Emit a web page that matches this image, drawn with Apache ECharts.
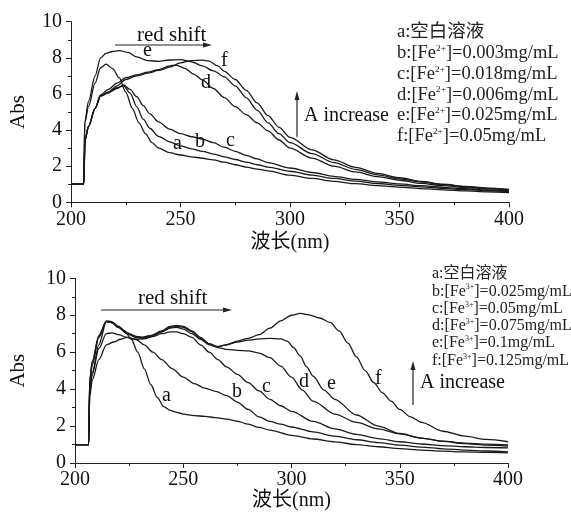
<!DOCTYPE html>
<html>
<head>
<meta charset="utf-8">
<script src="https://cdn.jsdelivr.net/npm/echarts/dist/echarts.min.js"></script>
<style>
html,body{margin:0;padding:0;background:#fff;}
#main{width:571px;height:512px;}
</style>
</head>
<body>
<div id="main"></div>
<script>
// axis ticks
var xTicks = [200, 250, 300, 350, 400];
var yTicks = [0, 2, 4, 6, 8, 10];

// Fe2+ spectra (top panel), [wavelength nm, Abs]
var fe2A = [[200,1],[205.8,1],[206.3,4.4],[208,5.3],[211,6.6],[213.5,7.45],[216,7.65],[219,7.4],[222,6.9],[225,6.1],[228,5.2],[231,4.4],[234,3.8],[237,3.3],[240,3.0],[245,2.75],[250,2.62],[255,2.52],[260,2.44],[265,2.35],[270,2.22],[275,2.08],[280,1.95],[285,1.84],[290,1.74],[300,1.5],[310,1.32],[320,1.16],[330,1.03],[340,0.92],[350,0.84],[360,0.76],[370,0.69],[380,0.63],[390,0.58],[400,0.54]];
var fe2B = [[200,1],[205.8,1],[206.4,3.45],[208,4.2],[211,5.2],[213.5,5.9],[217,6.1],[221,6.35],[224,6.45],[227,6.05],[230,5.3],[233,4.6],[236,4.1],[240,3.65],[245,3.35],[250,3.12],[255,2.96],[260,2.82],[265,2.67],[270,2.52],[275,2.37],[280,2.22],[285,2.08],[290,1.95],[300,1.72],[310,1.5],[320,1.32],[330,1.17],[340,1.04],[350,0.94],[360,0.85],[370,0.77],[380,0.7],[390,0.64],[400,0.59]];
var fe2C = [[200,1],[205.8,1],[206.4,3.45],[208,4.2],[211,5.2],[213.5,5.88],[217,6.05],[221,6.3],[224,6.5],[227,6.25],[230,5.85],[233,5.35],[236,4.9],[240,4.45],[245,4.05],[250,3.8],[255,3.63],[260,3.5],[265,3.3],[270,3.05],[275,2.82],[280,2.6],[285,2.4],[290,2.2],[300,1.9],[310,1.65],[320,1.44],[330,1.27],[340,1.13],[350,1.02],[360,0.92],[370,0.83],[380,0.75],[390,0.68],[400,0.63]];
var fe2D = [[200,1],[205.8,1],[206.4,3.45],[208,4.2],[211,5.2],[213.5,5.95],[217,6.25],[221,6.6],[225,6.9],[230,7.05],[235,7.2],[240,7.35],[245,7.55],[248,7.6],[252,7.42],[256,7.1],[260,6.78],[265,6.3],[270,5.8],[275,5.3],[280,4.85],[285,4.4],[290,3.95],[295,3.45],[300,3.0],[310,2.45],[320,2.0],[330,1.68],[340,1.42],[350,1.22],[360,1.05],[370,0.92],[380,0.82],[390,0.74],[400,0.68]];
var fe2E = [[200,1],[205.8,1],[206.3,4.45],[208,5.6],[211,7.0],[213.5,8.0],[216,8.25],[219,8.35],[222,8.4],[226,8.3],[230,8.05],[235,7.85],[240,7.8],[245,7.88],[250,7.9],[255,7.78],[260,7.55],[265,7.28],[270,6.95],[275,6.45],[280,5.8],[285,5.1],[290,4.4],[295,3.8],[300,3.3],[310,2.7],[320,2.2],[330,1.82],[340,1.52],[350,1.3],[360,1.12],[370,0.98],[380,0.86],[390,0.77],[400,0.7]];
var fe2F = [[200,1],[205.8,1],[206.4,3.45],[208,4.2],[211,5.2],[213.5,5.9],[217,6.1],[221,6.45],[225,6.8],[230,7.0],[235,7.15],[240,7.3],[245,7.48],[250,7.72],[255,7.85],[260,7.87],[263,7.82],[267,7.55],[270,7.25],[275,6.8],[280,6.2],[285,5.5],[290,4.8],[295,4.15],[300,3.6],[310,2.9],[320,2.35],[330,1.93],[340,1.6],[350,1.36],[360,1.16],[370,1.0],[380,0.88],[390,0.79],[400,0.72]];

// Fe3+ spectra (bottom panel)
var fe3A = [[200,1],[206.3,1],[206.8,4.0],[208,4.9],[211,6.4],[214.5,7.65],[217,7.6],[220,7.4],[223,7.15],[226,6.7],[229,6.0],[232,5.1],[235,4.25],[238,3.55],[241,3.05],[244,2.85],[247,2.74],[250,2.65],[255,2.57],[260,2.52],[265,2.46],[270,2.38],[275,2.26],[280,2.1],[285,1.93],[290,1.78],[300,1.5],[310,1.3],[320,1.14],[330,1.0],[340,0.88],[350,0.78],[360,0.7],[370,0.64],[380,0.6],[390,0.57],[400,0.55]];
var fe3B = [[200,1],[206.3,1],[206.8,3.6],[208,4.5],[211,5.6],[214.5,6.4],[218,6.55],[221,6.7],[224,6.8],[228,6.7],[232,6.4],[236,6.0],[240,5.6],[245,5.1],[250,4.65],[255,4.3],[260,4.05],[265,3.88],[270,3.65],[275,3.3],[280,2.9],[285,2.5],[290,2.25],[295,2.1],[300,1.95],[310,1.68],[320,1.45],[330,1.26],[340,1.1],[350,0.97],[360,0.86],[370,0.77],[380,0.7],[390,0.65],[400,0.6]];
var fe3C = [[200,1],[206.3,1],[206.8,3.8],[208,4.8],[211,6.2],[214.5,7.0],[217,7.05],[220,6.95],[224,6.8],[228,6.7],[232,6.72],[236,6.85],[240,7.0],[244,7.1],[247,7.1],[250,7.0],[254,6.8],[258,6.4],[262,6.0],[266,5.6],[270,5.2],[275,4.8],[280,4.35],[285,3.9],[290,3.45],[295,3.1],[300,2.8],[310,2.25],[320,1.85],[330,1.55],[340,1.32],[350,1.15],[360,1.03],[370,0.94],[380,0.88],[390,0.84],[400,0.82]];
var fe3D = [[200,1],[206.3,1],[206.8,4.3],[208,5.3],[211,6.8],[214.5,7.65],[217,7.6],[220,7.35],[224,7.05],[228,6.85],[231,6.8],[235,6.9],[240,7.1],[244,7.3],[247,7.35],[250,7.25],[254,7.0],[258,6.7],[262,6.4],[266,6.25],[270,6.15],[275,6.1],[280,6.07],[285,5.95],[290,5.7],[295,5.25],[300,4.65],[305,3.95],[310,3.35],[320,2.65],[330,2.2],[340,1.85],[350,1.58],[360,1.35],[370,1.17],[380,1.05],[390,0.97],[400,0.92]];
var fe3E = [[200,1],[206.3,1],[206.8,4.5],[208,5.5],[211,6.85],[214.5,7.65],[217,7.6],[220,7.35],[224,7.0],[228,6.8],[231,6.75],[235,6.85],[240,7.1],[244,7.35],[247,7.4],[250,7.35],[254,7.1],[258,6.75],[262,6.45],[266,6.3],[270,6.4],[275,6.55],[280,6.65],[285,6.72],[290,6.75],[295,6.72],[298,6.6],[301,6.25],[304,5.8],[307,5.2],[310,4.7],[315,3.95],[320,3.45],[330,2.6],[340,2.0],[350,1.6],[360,1.35],[370,1.18],[380,1.08],[390,1.02],[400,0.98]];
var fe3F = [[200,1],[206.3,1],[206.8,4.5],[208,5.5],[211,6.9],[214.5,7.7],[217,7.65],[220,7.4],[224,7.05],[228,6.85],[231,6.8],[235,6.9],[240,7.15],[244,7.4],[247,7.45],[250,7.4],[254,7.15],[258,6.8],[262,6.45],[266,6.3],[270,6.4],[275,6.6],[280,6.75],[285,6.95],[290,7.3],[295,7.7],[300,8.0],[304,8.1],[308,8.02],[313,7.85],[318,7.6],[322,7.15],[326,6.5],[330,5.75],[334,5.0],[338,4.35],[342,3.8],[346,3.35],[350,2.9],[355,2.5],[360,2.2],[370,1.72],[380,1.45],[390,1.28],[400,1.15]];

var legend2 = ['a:空白溶液', 'b:[Fe{s|2+}]=0.003mg/mL', 'c:[Fe{s|2+}]=0.018mg/mL', 'd:[Fe{s|2+}]=0.006mg/mL', 'e:[Fe{s|2+}]=0.025mg/mL', 'f:[Fe{s|2+}]=0.05mg/mL'];
var legend3 = ['a:空白溶液', 'b:[Fe{s|3+}]=0.025mg/mL', 'c:[Fe{s|3+}]=0.05mg/mL', 'd:[Fe{s|3+}]=0.075mg/mL', 'e:[Fe{s|3+}]=0.1mg/mL', 'f:[Fe{s|3+}]=0.125mg/mL'];

var serif = '"Liberation Serif", "Times New Roman", serif';
var cjk = '"Liberation Serif", "Noto Sans CJK SC", serif';

function makeX(idx, gap) {
    return {
        type: 'value', gridIndex: idx, min: 200, max: 400, interval: 50,
        name: '波长(nm)', nameLocation: 'middle', nameGap: gap,
        nameTextStyle: {fontFamily: cjk, fontSize: 20, color: '#111'},
        axisLine: {onZero: false, lineStyle: {color: '#222', width: 1}},
        axisTick: {length: 5, lineStyle: {color: '#222'}},
        minorTick: {show: true, splitNumber: 2, length: 3, lineStyle: {color: '#222'}},
        splitLine: {show: false},
        axisLabel: {fontFamily: serif, fontSize: 20, color: '#111', margin: 7}
    };
}
function makeY(idx, gap) {
    return {
        type: 'value', gridIndex: idx, min: 0, max: 10, interval: 2,
        name: 'Abs', nameLocation: 'middle', nameGap: gap,
        nameTextStyle: {fontFamily: serif, fontSize: 21, color: '#111'},
        axisLine: {show: true, lineStyle: {color: '#222', width: 1}},
        axisTick: {show: true, length: 5, lineStyle: {color: '#222'}},
        minorTick: {show: true, splitNumber: 2, length: 3, lineStyle: {color: '#222'}},
        splitLine: {show: false},
        axisLabel: {fontFamily: serif, fontSize: 20, color: '#111', margin: 9}
    };
}
function curve(name, data, idx) {
    return {
        name: name, type: 'line', xAxisIndex: idx, yAxisIndex: idx,
        data: data, showSymbol: false, smooth: 0.3, smoothMonotone: 'x',
        lineStyle: {color: '#1a1a1a', width: 1.3},
        silent: true, animation: false
    };
}
function txt(x, y, s, size) {
    return {type: 'text', left: x, top: y, style: {text: s, font: size + 'px ' + serif, fill: '#111'}};
}
function arrowH(x1, x2, y) {
    return [
        {type: 'line', shape: {x1: x1, y1: y, x2: x2 - 6, y2: y}, style: {stroke: '#222', lineWidth: 1.2}},
        {type: 'polygon', shape: {points: [[x2, y], [x2 - 9, y - 2.5], [x2 - 9, y + 2.5]]}, style: {fill: '#222'}}
    ];
}
function arrowV(x, y1, y2) {
    return [
        {type: 'line', shape: {x1: x, y1: y1, x2: x, y2: y2 + 6}, style: {stroke: '#222', lineWidth: 1.2}},
        {type: 'polygon', shape: {points: [[x, y2], [x - 2.5, y2 + 9], [x + 2.5, y2 + 9]]}, style: {fill: '#222'}}
    ];
}
function legendBlock(lines, x, y0, step, size) {
    return lines.map(function (s, i) {
        return {
            type: 'text', left: x, top: y0 + i * step,
            style: {
                rich: {
                    n: {fontFamily: cjk, fontSize: size, fill: '#222', lineHeight: size},
                    s: {fontFamily: serif, fontSize: size * 0.5, fill: '#222', verticalAlign: 'top', lineHeight: size}
                },
                text: '{n|' + s.replace(/\{s\|([^}]*)\}/g, '}{s|$1}{n|') + '}'
            }
        };
    });
}

var graphics = []
    .concat([txt(137, 25, 'red shift', 21)])
    .concat(arrowH(115, 212, 45))
    .concat([txt(143, 41, 'e', 20), txt(221, 51, 'f', 20), txt(201, 73, 'd', 20),
             txt(173, 134, 'a', 20), txt(195, 132, 'b', 20), txt(226, 131, 'c', 20)])
    .concat(arrowV(297, 137, 91))
    .concat([txt(304, 106, 'A increase', 20)])
    .concat(legendBlock(legend2, 397, 23, 20.8, 18.5))
    .concat([txt(138, 288, 'red shift', 21)])
    .concat(arrowH(101, 232, 310))
    .concat([txt(162, 386, 'a', 20), txt(232, 382, 'b', 20), txt(262, 377, 'c', 20),
             txt(299, 372, 'd', 20), txt(327, 374, 'e', 20), txt(375, 369, 'f', 20)])
    .concat(arrowV(413, 405, 361))
    .concat([txt(420, 373, 'A increase', 20)])
    .concat(legendBlock(legend3, 432, 266, 17.3, 16));

var chart = echarts.init(document.getElementById('main'), null, {renderer: 'canvas'});
chart.setOption({
    backgroundColor: '#fff',
    animation: false,
    grid: [
        {left: 70, top: 21.7, width: 439, height: 180.6},
        {left: 74, top: 278.3, width: 434, height: 186.7}
    ],
    xAxis: [makeX(0, 30), makeX(1, 28)],
    yAxis: [makeY(0, 42), makeY(1, 46)],
    series: [
        curve('a', fe2A, 0), curve('b', fe2B, 0), curve('c', fe2C, 0),
        curve('d', fe2D, 0), curve('e', fe2E, 0), curve('f', fe2F, 0),
        curve('a', fe3A, 1), curve('b', fe3B, 1), curve('c', fe3C, 1),
        curve('d', fe3D, 1), curve('e', fe3E, 1), curve('f', fe3F, 1)
    ],
    graphic: graphics
});
</script>
</body>
</html>
